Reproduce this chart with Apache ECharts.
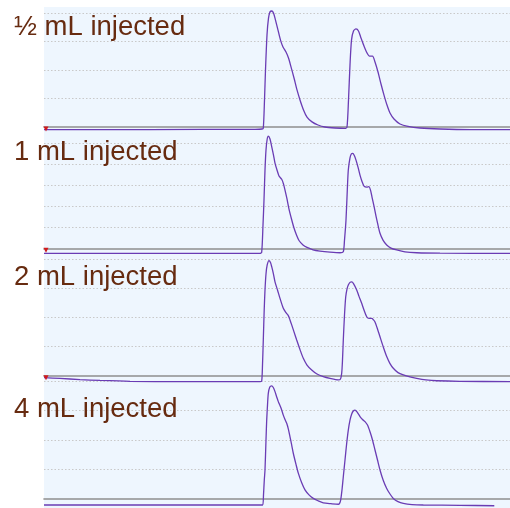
<!DOCTYPE html>
<html>
<head>
<meta charset="utf-8">
<script src="https://cdn.jsdelivr.net/npm/echarts@6/dist/echarts.min.js"></script>
<style>
  html, body { margin: 0; padding: 0; background: #ffffff; }
  #chart { width: 510px; height: 508px; }
</style>
</head>
<body>
<div id="chart"></div>
<script>
// Injection volumes shown, one chromatogram per volume
const panelLabels = ['½ mL injected', '1 mL injected', '2 mL injected', '4 mL injected'];

// Retention time window (min)
const timeRange = [0, 46.6];

// Detector response [time (min), signal], one trace per injection volume
const trace05 = [
  [0, -0.09], [10.6, -0.09], [21.1, -0.08], [21.8, -0.07], [21.93, -0.04], [22.05, 0.95], [22.15, 2.0],
  [22.3, 3.23], [22.45, 3.82], [22.6, 4.04], [22.77, 4.07], [22.95, 4.0], [23.15, 3.75], [23.4, 3.4],
  [23.65, 3.05], [23.9, 2.81], [24.2, 2.63], [24.45, 2.42], [24.7, 2.11], [25.0, 1.72], [25.3, 1.3],
  [25.6, 0.95], [25.95, 0.6], [26.3, 0.35], [26.8, 0.18], [27.4, 0.07], [28.1, 0.0], [29.1, -0.035],
  [30.1, -0.05], [30.3, 0], [30.45, 0.95], [30.6, 2.18], [30.75, 3.05], [30.95, 3.37], [31.2, 3.44],
  [31.45, 3.37], [31.7, 3.12], [32.0, 2.84], [32.3, 2.6], [32.55, 2.49], [32.85, 2.49], [33.1, 2.28],
  [33.4, 1.93], [33.7, 1.51], [34.0, 1.12], [34.3, 0.77], [34.6, 0.49], [35.0, 0.28], [35.6, 0.105],
  [36.4, 0.02], [37.6, -0.035], [39.6, -0.07], [42.6, -0.09], [46.6, -0.09]
];
const trace1 = [
  [0, -0.24], [10.6, -0.24], [21.6, -0.24], [21.77, -0.18], [21.9, 1.1], [22.0, 2.29], [22.1, 3.71],
  [22.2, 4.66], [22.32, 5.18], [22.43, 5.32], [22.6, 5.18], [22.77, 4.82], [22.95, 4.42], [23.1, 4.04],
  [23.3, 3.71], [23.5, 3.43], [23.77, 3.27], [23.95, 3.05], [24.1, 2.76], [24.3, 2.34], [24.5, 1.86],
  [24.75, 1.39], [25.0, 0.96], [25.25, 0.63], [25.5, 0.37], [25.9, 0.16], [26.3, 0.04], [26.9, -0.07],
  [27.6, -0.13], [28.6, -0.18], [29.6, -0.21], [29.93, -0.16], [30.05, 0.39], [30.2, 1.34], [30.33, 2.76],
  [30.43, 3.71], [30.6, 4.28], [30.73, 4.47], [30.87, 4.5], [31.03, 4.4], [31.2, 4.18], [31.4, 3.85],
  [31.6, 3.47], [31.8, 3.17], [32.0, 2.95], [32.27, 2.9], [32.5, 2.92], [32.65, 2.76], [32.8, 2.43],
  [33.0, 2.0], [33.2, 1.53], [33.4, 1.1], [33.6, 0.71], [33.9, 0.39], [34.27, 0.16], [34.7, 0.01],
  [35.27, -0.08], [36.1, -0.17], [37.27, -0.21], [39.6, -0.23], [46.6, -0.24]
];
const trace2 = [
  [0, -0.065], [1.6, -0.09], [3.6, -0.13], [5.6, -0.16], [8.6, -0.19], [13.6, -0.2], [21.6, -0.2],
  [21.77, -0.18], [21.85, 0.37], [21.93, 1.23], [22.02, 2.26], [22.1, 2.95], [22.2, 3.5], [22.32, 3.81],
  [22.5, 3.96], [22.65, 3.89], [22.77, 3.75], [22.93, 3.52], [23.1, 3.23], [23.35, 2.95], [23.6, 2.66],
  [23.93, 2.32], [24.2, 2.17], [24.43, 2.07], [24.6, 1.92], [24.77, 1.75], [25.0, 1.51], [25.27, 1.23],
  [25.6, 0.9], [25.93, 0.6], [26.3, 0.37], [26.77, 0.2], [27.3, 0.06], [27.93, -0.03], [28.6, -0.09],
  [29.43, -0.14], [29.65, -0.11], [29.77, 0.09], [29.85, 0.54], [29.93, 1.23], [30.05, 2.09], [30.17, 2.71],
  [30.3, 2.98], [30.43, 3.12], [30.6, 3.21], [30.77, 3.23], [30.95, 3.17], [31.27, 2.95], [31.5, 2.73],
  [31.77, 2.49], [32.0, 2.26], [32.27, 2.03], [32.5, 1.97], [32.77, 1.97], [32.95, 1.92], [33.1, 1.85],
  [33.35, 1.61], [33.6, 1.34], [33.93, 0.99], [34.27, 0.66], [34.6, 0.42], [34.93, 0.26], [35.4, 0.11],
  [35.93, 0.03], [36.6, -0.04], [37.27, -0.09], [38.2, -0.14], [39.27, -0.17], [41.6, -0.19], [46.6, -0.2]
];
const trace4 = [
  [0, -0.215], [10.6, -0.215], [21.6, -0.215], [21.87, -0.215], [21.95, 0.13], [22.03, 0.64], [22.1, 0.98],
  [22.2, 2.0], [22.27, 2.68], [22.35, 3.19], [22.43, 3.59], [22.58, 3.81], [22.77, 3.85], [22.93, 3.79],
  [23.1, 3.65], [23.27, 3.47], [23.43, 3.31], [23.7, 3.09], [23.93, 2.85], [24.1, 2.7], [24.27, 2.57],
  [24.43, 2.38], [24.6, 2.11], [24.77, 1.83], [24.93, 1.55], [25.2, 1.17], [25.43, 0.87], [25.77, 0.54],
  [26.1, 0.3], [26.5, 0.13], [26.93, 0.01], [27.4, -0.07], [27.93, -0.14], [28.7, -0.17], [29.43, -0.19],
  [29.57, -0.15], [29.67, -0.04], [29.8, 0.3], [29.93, 0.75], [30.1, 1.32], [30.27, 1.89], [30.43, 2.34],
  [30.6, 2.68], [30.77, 2.89], [30.93, 2.99], [31.1, 3.02], [31.3, 2.96], [31.6, 2.8], [31.85, 2.7],
  [32.1, 2.63], [32.35, 2.51], [32.6, 2.28], [32.85, 2.0], [33.1, 1.66], [33.35, 1.32], [33.6, 0.98],
  [33.93, 0.62], [34.27, 0.35], [34.6, 0.16], [34.93, 0.01], [35.4, -0.1], [35.93, -0.16], [36.8, -0.2],
  [37.93, -0.215], [41.6, -0.225], [45.03, -0.24]
];
const traces = [trace05, trace1, trace2, trace4];

// Top of each signal scale (in gridline units)
const signalMax = [4.21, 5.46, 4.15, 4.02];

// Panel geometry: baseline position and gridline spacing (px)
const panelLayout = [
  { baseline: 127, spacing: 28.5, labelTop: 8.5 },
  { baseline: 248.3, spacing: 21.1, labelTop: 133.5 },
  { baseline: 375.8, spacing: 29.1, labelTop: 258.5 },
  { baseline: 498.7, spacing: 29.33, labelTop: 390.5 }
];
const plotLeft = 44;
const plotTop = 7;

const chart = echarts.init(document.getElementById('chart'), null, { renderer: 'canvas' });

const grids = [], xAxes = [], yAxes = [], series = [], titles = [];
panelLayout.forEach((p, i) => {
  const top = p.baseline - signalMax[i] * p.spacing;
  const height = signalMax[i] * p.spacing;
  grids.push({ left: plotLeft, right: 0, top: top, height: height, containLabel: false });
  xAxes.push({
    type: 'value', gridIndex: i, min: timeRange[0], max: timeRange[1],
    axisLine: { show: true, onZero: false, lineStyle: { color: '#8e8e8e', width: 1.6 } },
    axisTick: { show: false }, axisLabel: { show: false }, splitLine: { show: false }
  });
  yAxes.push({
    type: 'value', gridIndex: i, min: 0, max: signalMax[i], interval: 1,
    axisLine: { show: false }, axisTick: { show: false }, axisLabel: { show: false },
    splitLine: {
      show: true, showMinLine: false, showMaxLine: false,
      lineStyle: { color: '#c9c9c9', type: [1.5, 2], width: 1 }
    }
  });
  // trace dips slightly below the baseline, so it is allowed to leave the grid box
  series.push({
    type: 'line', xAxisIndex: i, yAxisIndex: i, data: traces[i],
    showSymbol: false, smooth: 0.25, clip: false,
    lineStyle: { color: '#6a3cb4', width: 1.3 },
    markPoint: i < 3 ? {
      symbol: 'triangle', symbolSize: [5, 5], symbolRotate: 180, symbolOffset: [2, 2],
      silent: true, itemStyle: { color: '#d0181c' }, label: { show: false },
      data: [{ coord: [timeRange[0], 0] }]
    } : undefined
  });
  titles.push({
    text: panelLabels[i], left: 9, top: p.labelTop,
    textStyle: { fontFamily: 'Liberation Sans, Arial, sans-serif', fontSize: 27.5, fontWeight: 'normal', color: '#672b10' }
  });
});

chart.setOption({
  animation: false,
  title: titles,
  graphic: [{
    type: 'rect', z: -10, silent: true,
    shape: { x: plotLeft, y: plotTop, width: 510 - plotLeft, height: 508 - plotTop },
    style: { fill: '#eef6fe' }
  }],
  grid: grids,
  xAxis: xAxes,
  yAxis: yAxes,
  series: series
});
</script>
</body>
</html>
